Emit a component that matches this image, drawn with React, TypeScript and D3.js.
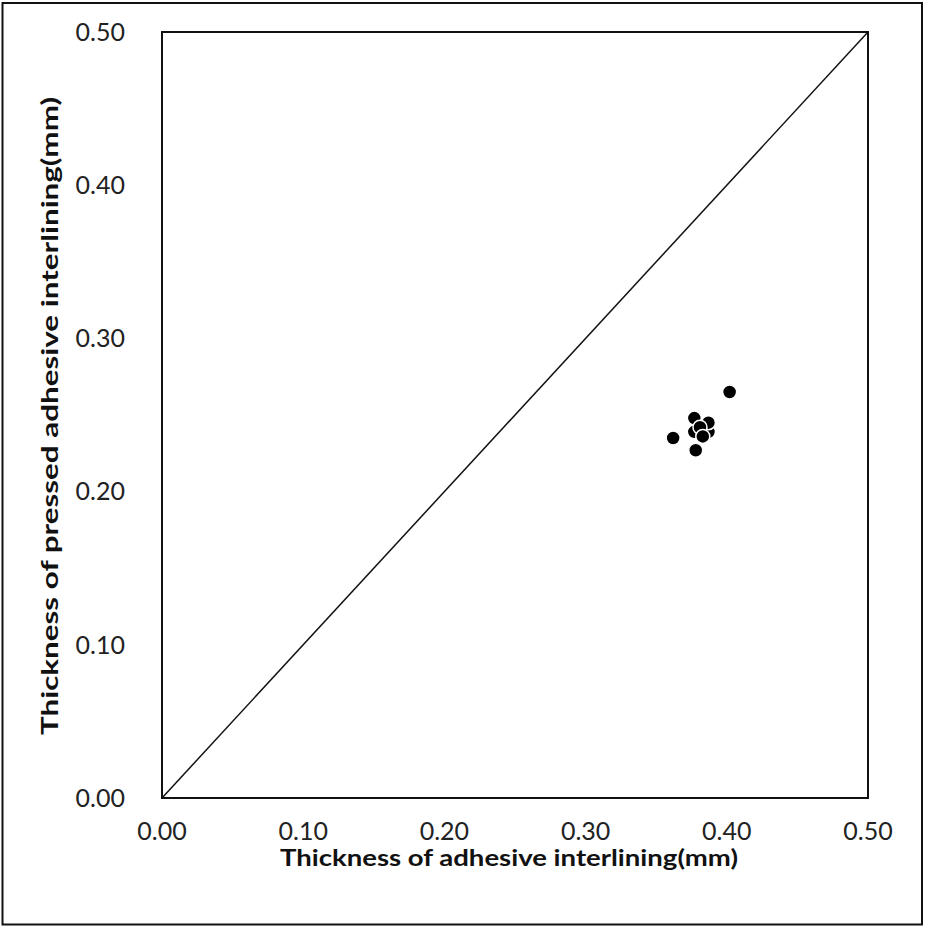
import React from "react";
import * as d3 from "d3";

const xValues = [0.402, 0.377, 0.362, 0.378, 0.387, 0.377, 0.387, 0.381, 0.383];
const yValues = [0.265, 0.248, 0.235, 0.227, 0.239, 0.239, 0.245, 0.242, 0.236];
const tickValues = [0, 0.1, 0.2, 0.3, 0.4, 0.5];
const diagonal = [0, 0.5];
const xTitle = "Thickness of adhesive interlining(mm)";
const yTitle = "Thickness of pressed adhesive interlining(mm)";

export default function App() {
  const W = 925, H = 927;
  const left = 162, right = 868, top = 32, bottom = 798;
  const x = d3.scaleLinear().domain([0, 0.5]).range([left, right]);
  const y = d3.scaleLinear().domain([0, 0.5]).range([bottom, top]);
  const line = d3.line<number>().x((d) => x(d)).y((d) => y(d));
  const pts = xValues.map((v, i) => ({ x: v, y: yValues[i] }));
  const font = "Lato, 'Open Sans', sans-serif";
  return (
    <svg width={W} height={H} style={{ position: "absolute", left: 0, top: 0 }}>
      <rect x={0} y={0} width={W} height={H} fill="#fff" />
      <rect x={2.5} y={3} width={919.5} height={921.5} fill="none" stroke="#111" strokeWidth={2} />
      <rect x={left} y={top} width={right - left} height={bottom - top} fill="none" stroke="#111" strokeWidth={2} />
      <path d={line(diagonal) || ""} stroke="#111" strokeWidth={1.5} fill="none" />
      {tickValues.map((t) => (
        <text key={"x" + t} x={x(t)} y={bottom + 42} textAnchor="middle" fontFamily={font} fontSize={25} fill="#222">
          {d3.format(".2f")(t)}
        </text>
      ))}
      {tickValues.map((t) => (
        <text key={"y" + t} x={125} y={y(t)} dy="0.35em" textAnchor="end" fontFamily={font} fontSize={25} fill="#222">
          {d3.format(".2f")(t)}
        </text>
      ))}
      {pts.map((p, i) => (
        <circle key={i} cx={x(p.x)} cy={y(p.y)} r={7} fill="#000" stroke="#fff" strokeWidth={1.5} />
      ))}
      <text x={509} y={866} textAnchor="middle" fontFamily={font} fontWeight="bold" fontSize={23} fill="#111"
        textLength={458} lengthAdjust="spacingAndGlyphs">{xTitle}</text>
      <text transform={`translate(58,416) rotate(-90)`} textAnchor="middle" fontFamily={font} fontWeight="bold" fontSize={23} fill="#111"
        textLength={638} lengthAdjust="spacingAndGlyphs">{yTitle}</text>
    </svg>
  );
}
